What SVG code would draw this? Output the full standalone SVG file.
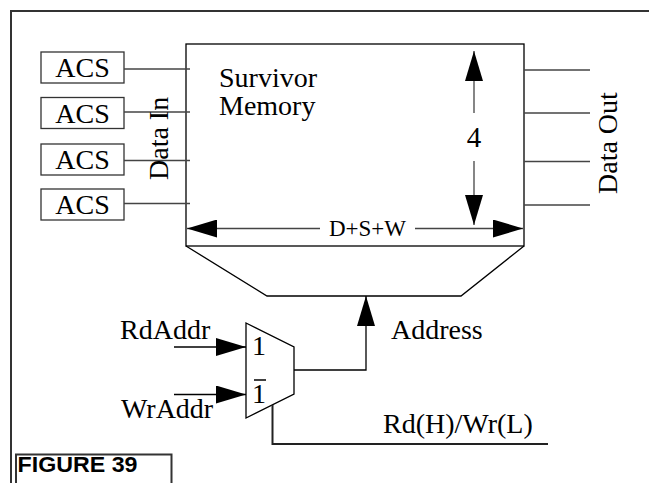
<svg xmlns="http://www.w3.org/2000/svg" width="649" height="483" viewBox="0 0 649 483">
<defs>
<marker id="ah" viewBox="0 0 30 18" refX="30" refY="9" markerWidth="30" markerHeight="18" markerUnits="userSpaceOnUse" orient="auto">
<path d="M0,0 L30,9 L0,18 Z" fill="#000"/>
</marker>
</defs>
<style>
.s{fill:none;stroke:#000;stroke-width:1.3}
.w{fill:#fff;stroke:#333;stroke-width:1.3}
.t{font-family:"Liberation Serif","Times New Roman",serif;font-size:28px;fill:#000}
.g{stroke:#444;stroke-width:1.3;fill:none}
</style>
<rect width="649" height="483" fill="#fff"/>
<g id="frame">
<path d="M11,483 V11 H649" fill="none" stroke="#333" stroke-width="2"/>
</g>
<g id="memory">
<rect x="186" y="44" width="338" height="202" class="s"/>
<text x="219" y="87" class="t">Survivor</text>
<text x="219" y="115" class="t">Memory</text>
</g>
<g id="decoder">
<path d="M186,246 L267,296 L461,296 L524,246" class="s"/>
</g>
<g id="acs1"><rect x="41" y="52" width="83" height="31" class="w"/><text x="82.5" y="77" class="t" text-anchor="middle">ACS</text></g>
<g id="acs2"><rect x="41" y="97.5" width="83" height="31" class="w"/><text x="82.5" y="122.5" class="t" text-anchor="middle">ACS</text></g>
<g id="acs3"><rect x="41" y="144" width="83" height="31" class="w"/><text x="82.5" y="169" class="t" text-anchor="middle">ACS</text></g>
<g id="acs4"><rect x="41" y="189" width="83" height="31" class="w"/><text x="82.5" y="214" class="t" text-anchor="middle">ACS</text></g>
<g id="mux">
<path d="M246,323 L294,347 L294,394 L246,418 Z" class="s"/>
<text x="252" y="355" class="t">1</text>
<text x="252" y="403" class="t">1</text>
<line x1="254" y1="380" x2="266" y2="380" stroke="#000" stroke-width="1.5"/>
</g>
<g id="connectors">
<line x1="124" y1="69" x2="190" y2="69" class="g"/>
<line x1="124" y1="112" x2="190" y2="112" class="g"/>
<line x1="124" y1="160.5" x2="190" y2="160.5" class="g"/>
<line x1="124" y1="203.5" x2="190" y2="203.5" class="g"/>
<line x1="524" y1="70" x2="590" y2="70" class="g"/>
<line x1="524" y1="113" x2="590" y2="113" class="g"/>
<line x1="524" y1="161.5" x2="590" y2="161.5" class="g"/>
<line x1="524" y1="205" x2="590" y2="205" class="g"/>
<path d="M320,228.5 H187" class="g" marker-end="url(#ah)"/>
<path d="M415,228.5 H523" class="g" marker-end="url(#ah)"/>
<path d="M474,113 V51" class="g" marker-end="url(#ah)"/>
<path d="M474,161 V225" class="g" marker-end="url(#ah)"/>
<path d="M174,347 H246" class="s" marker-end="url(#ah)"/>
<path d="M174,394.5 H246" class="s" marker-end="url(#ah)"/>
<path d="M294,370 H366 V296" class="s" marker-end="url(#ah)"/>
<path d="M272.5,405 V444 H548" fill="none" stroke="#222" stroke-width="2"/>
</g>
<g id="labels">
<text x="367.5" y="236" class="t" text-anchor="middle" style="font-size:23px">D+S+W</text>
<text x="474" y="147" class="t" text-anchor="middle" style="font-size:29px">4</text>
<text transform="translate(167.5,180) rotate(-90)" class="t">Data In</text>
<text transform="translate(617,194) rotate(-90)" class="t">Data Out</text>
<text x="391" y="339" class="t">Address</text>
<text x="120" y="339" class="t">RdAddr</text>
<text x="121" y="418" class="t">WrAddr</text>
<text x="383" y="433" class="t">Rd(H)/Wr(L)</text>
</g>
<g id="figure">
<path d="M16,483 V454.5 H171.5 V483" fill="none" stroke="#333" stroke-width="2"/>
<text x="17.5" y="471.5" font-family="'Liberation Sans',Arial,sans-serif" font-weight="bold" font-size="21.5" textLength="120" lengthAdjust="spacingAndGlyphs">FIGURE 39</text>
</g>
</svg>
